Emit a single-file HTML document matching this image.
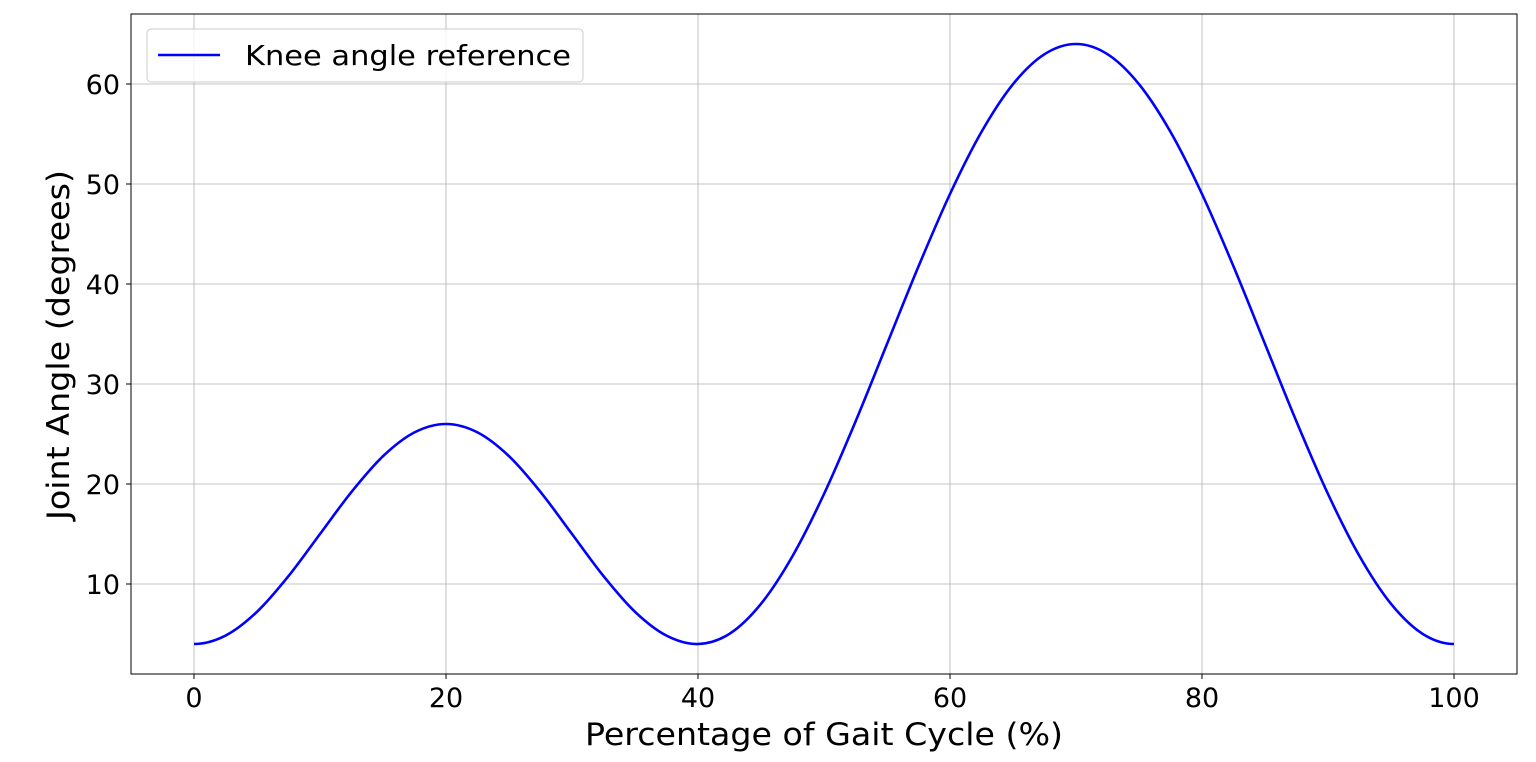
<!DOCTYPE html>
<html><head><meta charset="utf-8"><style>
body{margin:0;background:#fff;}
svg{display:block;font-family:"DejaVu Sans","Liberation Sans",sans-serif;}
</style></head><body>
<svg id="chart" width="1536" height="762" xmlns="http://www.w3.org/2000/svg">
<g id="grid"></g>
<g id="axes"></g>
<path id="curve" fill="none" stroke="#0000ff" stroke-width="2.6"/>
<rect x="131" y="14" width="1386" height="660" fill="none" stroke="#000" stroke-width="1"/>
<text x="824" y="745" font-size="31" text-anchor="middle" textLength="478" lengthAdjust="spacingAndGlyphs">Percentage of Gait Cycle (%)</text>
<text transform="translate(69,345) rotate(-90)" font-size="31" text-anchor="middle" textLength="350" lengthAdjust="spacingAndGlyphs">Joint Angle (degrees)</text>
<g>
<rect x="147" y="29" width="436" height="53" rx="4" fill="#fff" fill-opacity="0.8" stroke="#ccc"/>
<line x1="158" y1="55" x2="220" y2="55" stroke="#0000ff" stroke-width="2.6"/>
<text x="245" y="65" font-size="28" textLength="326" lengthAdjust="spacingAndGlyphs">Knee angle reference</text>
</g>
</svg>
<script>
const xValues=[0,2.5,5,7.5,10,12.5,15,17.5,20,22.5,25,27.5,30,32.5,35,37.5,40,42.5,45,47.5,50,52.5,55,57.5,60,62.5,65,67.5,70,72.5,75,77.5,80,82.5,85,87.5,90,92.5,95,97.5,100];
const kneeAngles=[4,4.84,7.22,10.79,15,19.21,22.78,25.16,26,25.16,22.78,19.21,15,10.79,7.22,4.84,4,5.02,8.02,12.79,19,26.24,34,41.76,49,55.21,59.98,62.98,64,62.98,59.98,55.21,49,41.76,34,26.24,19,12.79,8.02,5.02,4];
const xTicks=[0,20,40,60,80,100];
const yTicks=[10,20,30,40,50,60];
const L=131,R=1517,T=14,B=674,xMin=-5,xMax=105,yMin=1,yMax=67;
const sx=v=>L+(v-xMin)/(xMax-xMin)*(R-L);
const sy=v=>B-(v-yMin)/(yMax-yMin)*(B-T);
const NS="http://www.w3.org/2000/svg";
const grid=document.getElementById('grid'),axes=document.getElementById('axes');
function mk(tag,attrs,parent){const e=document.createElementNS(NS,tag);for(const k in attrs)e.setAttribute(k,attrs[k]);parent.appendChild(e);return e;}
xTicks.forEach(t=>{
 const g=mk('line',{x1:sx(t),x2:sx(t),y1:T,y2:B,stroke:'#b0b0b0','stroke-width':0.8},grid);
 
 
 const tk=mk('line',{x1:sx(t),x2:sx(t),y1:B,y2:B+5,stroke:'#000'},axes);
 
 
 const tx=mk('text',{x:sx(t),y:B+33,'font-size':27,'text-anchor':'middle'},axes);
 tx.textContent=t;
 
 
});
yTicks.forEach(t=>{
 const g=mk('line',{x1:L,x2:R,y1:sy(t),y2:sy(t),stroke:'#b0b0b0','stroke-width':0.8},grid);
 
 
 const tk=mk('line',{x1:L-5,x2:L,y1:sy(t),y2:sy(t),stroke:'#000'},axes);
 
 
 const tx=mk('text',{x:L-11,y:sy(t)+10,'font-size':27,'text-anchor':'end'},axes);
 tx.textContent=t;
 
 
});
const pts=xValues.map((x,i)=>[sx(x),sy(kneeAngles[i])]);
const n=pts.length;
const first=[2*pts[0][0]-pts[1][0],pts[1][1]];
const last=[2*pts[n-1][0]-pts[n-2][0],pts[n-2][1]];
let d=`M${pts[0][0]},${pts[0][1]}`;
for(let i=0;i<n-1;i++){
 const p0=i===0?first:pts[i-1],p1=pts[i],p2=pts[i+1],p3=i+2>=n?last:pts[i+2];
 const c1=[p1[0]+(p2[0]-p0[0])/6,p1[1]+(p2[1]-p0[1])/6];
 const c2=[p2[0]-(p3[0]-p1[0])/6,p2[1]-(p3[1]-p1[1])/6];
 d+=` C${c1[0]},${c1[1]} ${c2[0]},${c2[1]} ${p2[0]},${p2[1]}`;
}
document.getElementById('curve').setAttribute('d',d);
</script>
</body></html>
